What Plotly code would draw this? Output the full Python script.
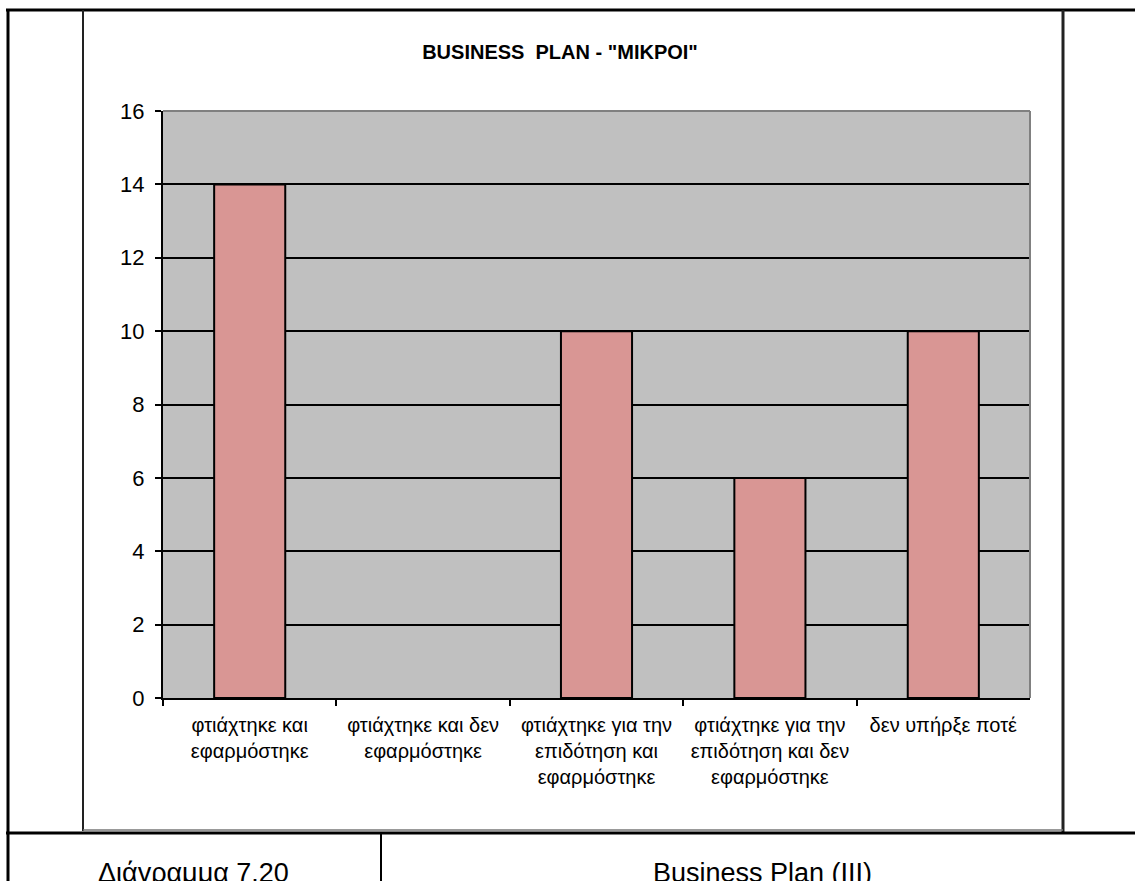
import plotly.graph_objects as go

categories = [
    "φτιάχτηκε και<br>εφαρμόστηκε",
    "φτιάχτηκε και δεν<br>εφαρμόστηκε",
    "φτιάχτηκε για την<br>επιδότηση και<br>εφαρμόστηκε",
    "φτιάχτηκε για την<br>επιδότηση και δεν<br>εφαρμόστηκε",
    "δεν υπήρξε ποτέ",
]
values = [14, 0, 10, 6, 10]
y_ticks = [0, 2, 4, 6, 8, 10, 12, 14, 16]

W, H = 1135, 881
FONT = "Liberation Sans, Arial, sans-serif"

def px(x):
    return x / W

def py(y):
    return 1 - y / H

PL, PR, PT, PB = 163, 1030, 111, 698

fig = go.Figure()
fig.add_trace(go.Bar(
    x=categories, y=values,
    marker=dict(color="#D99694",
                line=dict(color="black", width=[2 if v > 0 else 0 for v in values])),
    width=0.41,
    hoverinfo="skip",
))

shapes = []
def line(x0, y0, x1, y1, w=2, c="black"):
    shapes.append(dict(type="line", xref="paper", yref="paper",
                       x0=px(x0), y0=py(y0), x1=px(x1), y1=py(y1),
                       line=dict(color=c, width=w), layer="above"))

# plot area top/right gray border
line(PL, PT, PR, PT, 2, "#808080")
line(PR, PT, PR, PB, 2, "#808080")
# table lines
line(6, 10, W, 10, 3)
line(8, 10, 8, H, 3)
line(83, 10, 83, 831, 2, "#222222")
line(1063, 10, 1063, 833, 3, "#222222")
line(83, 830, 1063, 830, 1.5, "#777777")
line(6, 833, W, 833, 3)
line(381, 833, 381, H, 2)

fig.update_layout(
    width=W, height=H, autosize=False,
    margin=dict(l=0, r=0, t=0, b=0, pad=0),
    paper_bgcolor="white",
    plot_bgcolor="#C0C0C0",
    showlegend=False,
    bargap=0.59,
    font=dict(family=FONT, color="black"),
    title=dict(text="<b>BUSINESS  PLAN - \"ΜΙΚΡΟΙ\"</b>",
               x=px(560), xanchor="center", y=py(52), yanchor="middle",
               font=dict(size=20, family=FONT, color="black")),
    xaxis=dict(domain=[px(PL), px(PR)], showline=True, linecolor="black", linewidth=2,
               ticks="outside", tickson="boundaries", ticklen=6, tickcolor="black", tickwidth=2,
               tickfont=dict(size=20, family=FONT, color="black"), showgrid=False,
               tickangle=0, automargin=False, ticklabelstandoff=8),
    yaxis=dict(domain=[py(PB), py(PT)], range=[0, 16], tickvals=y_ticks,
               showline=True, linecolor="black", linewidth=2,
               ticks="outside", ticklen=6, tickcolor="black", tickwidth=2,
               showgrid=True, gridcolor="black", gridwidth=2, zeroline=False,
               tickfont=dict(size=22, family=FONT, color="black"),
               ticklabelstandoff=6, automargin=False),
    shapes=shapes,
    annotations=[
        dict(text="Διάγραμμα 7.20", xref="paper", yref="paper", x=px(193), y=py(856),
             xanchor="center", yanchor="top", showarrow=False,
             font=dict(size=27, family=FONT, color="black")),
        dict(text="Business Plan (III)", xref="paper", yref="paper", x=px(762), y=py(856),
             xanchor="center", yanchor="top", showarrow=False,
             font=dict(size=27, family=FONT, color="black")),
    ],
)

fig.write_html("out.html")
